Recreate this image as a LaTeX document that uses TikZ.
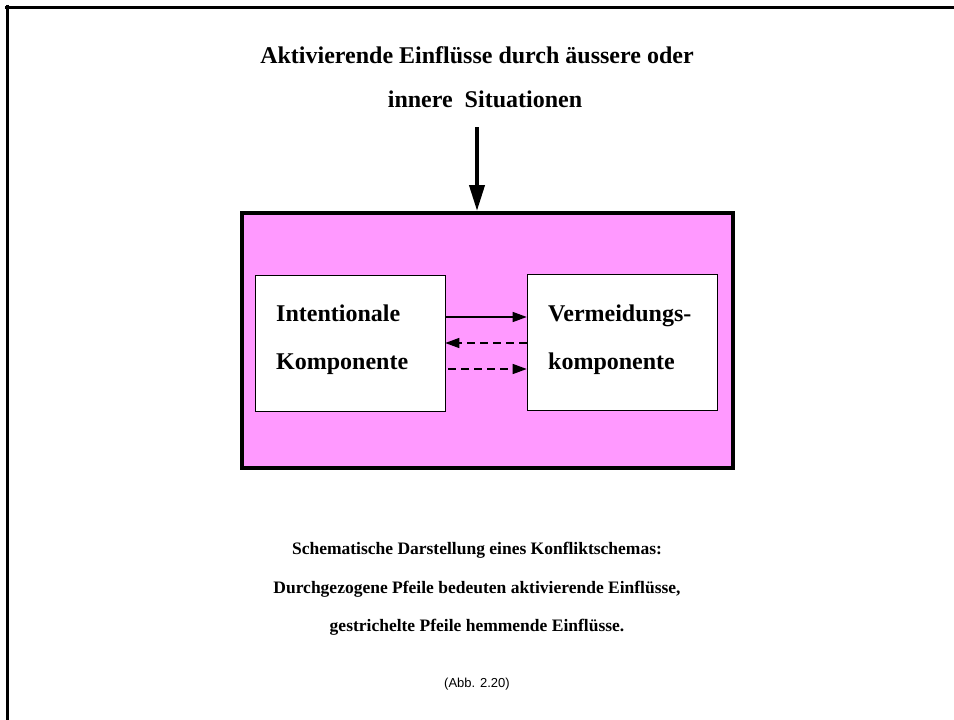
\documentclass[tikz,border=0pt]{standalone}
\usepackage{fontspec}
\setmainfont{Liberation Serif}
\newfontfamily\abbfont{Liberation Sans}
\usetikzlibrary{arrows.meta}
\definecolor{konfliktpink}{RGB}{255,153,255}

\begin{document}
\begin{tikzpicture}[x=1pt, y=-1pt,
        box/.style={draw, fill=white, line width=0.6pt, minimum width=190pt, minimum height=136pt, inner sep=0pt},
        boxtext/.style={font=\fontsize{24}{24}\selectfont\bfseries, anchor=base west, inner sep=0pt},
        pfeil/.style={-{Triangle[length=14pt, width=10pt]}, line width=1.4pt},
        hemm/.style={pfeil, dash pattern=on 8pt off 5pt},
        caption/.style={font=\fontsize{17.5}{17.5}\selectfont\bfseries, inner sep=0pt}]
        \useasboundingbox (0,0) rectangle (954,720);
        % frame lines
        \draw[line width=3pt] (5,7) -- (954,7);
        \draw[line width=3pt] (7,5) -- (7,720);

        \node[font=\fontsize{24}{24}\selectfont\bfseries, anchor=base] (title1) at (477,63) {Aktivierende Einflüsse durch äussere oder};
        \node[font=\fontsize{24}{24}\selectfont\bfseries, anchor=base] (title2) at (485,107) {innere\ \ Situationen};

        \node[draw, fill=konfliktpink, line width=4pt, minimum width=491pt, minimum height=255pt, inner sep=0pt] (frame) at (487.5,340.5) {};
        \node[box] (intent) at (350,343) {};
        \node[box] (vermeid) at (622,342) {};

        \node[boxtext] (t1) at (276,321) {Intentionale};
        \node[boxtext] (t2) at (276,369) {Komponente};
        \node[boxtext] (t3) at (548,321) {Vermeidungs-};
        \node[boxtext] (t4) at (548,369) {komponente};

        \coordinate (quelle) at (477,127);
        \draw[-{Triangle[length=26pt, width=15pt]}, line width=4pt] (quelle) -- (quelle |- frame.north);

        \draw[pfeil] (intent.east |- 0,317) -- (vermeid.west |- 0,317);
        \draw[hemm] (vermeid.west |- 0,343) -- (intent.east |- 0,343);
        \draw[hemm] ([xshift=3pt]intent.east |- 0,369) -- (vermeid.west |- 0,369);

        \node[caption, anchor=base] (c1) at (477,554) {Schematische Darstellung eines Konfliktschemas:};
        \node[caption, anchor=base] (c2) at (477,593) {Durchgezogene Pfeile bedeuten aktivierende Einflüsse,};
        \node[caption, anchor=base] (c3) at (477,631) {gestrichelte Pfeile hemmende Einflüsse.};
        \node[font=\abbfont\fontsize{13}{13}\selectfont, anchor=base] (abb) at (477,687) {(Abb. 2.20)};
\end{tikzpicture}
\end{document}
